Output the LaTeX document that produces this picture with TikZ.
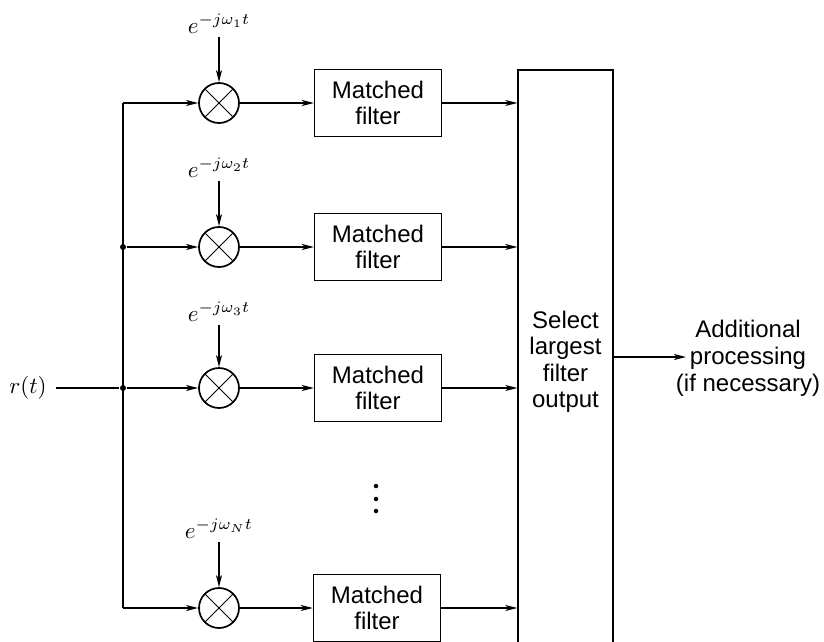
\documentclass[tikz,border=0pt]{standalone}
\usepackage{fontspec}
\setmainfont{Liberation Sans}
\usetikzlibrary{arrows.meta}
\begin{document}
\begin{tikzpicture}[x=1pt,y=-1pt,
  line width=1.4pt,
  >={Stealth[length=12pt,width=6pt,inset=3pt]},
  mult/.style={circle,draw,line width=1.7pt,minimum size=40pt,inner sep=0pt,
    path picture={\draw[line width=0.9pt]
      (path picture bounding box.north west)--(path picture bounding box.south east)
      (path picture bounding box.north east)--(path picture bounding box.south west);}},
  mf/.style={draw,minimum width=127pt,minimum height=67pt,align=center,
    font=\fontsize{24}{26}\selectfont,inner sep=0pt},
  sig/.style={scale=2.3,inner sep=1pt},
  junct/.style={circle,fill,inner sep=0pt,minimum size=6pt},
  dotst/.style={circle,fill,inner sep=0pt,minimum size=4.5pt}
]
\useasboundingbox (0,0) rectangle (824,642);
\clip (0,0) rectangle (824,642);

% multipliers
\node[mult] (m1) at (219,103) {};
\node[mult] (m2) at (219,247) {};
\node[mult] (m3) at (219,388) {};
\node[mult] (mN) at (219,608) {};

% matched filters
\node[mf] (f1) at (378,103) {Matched\\filter};
\node[mf] (f2) at (378,247) {Matched\\filter};
\node[mf] (f3) at (378,388) {Matched\\filter};
\node[mf] (fN) at (377,608) {Matched\\filter};

% select box
\node[draw,minimum width=95pt,minimum height=584pt,align=center,inner sep=0pt,
  font=\fontsize{24}{26.5}\selectfont] (sel) at (565.5,362)
  {Select\\largest\\filter\\output};

% oscillator labels
\node[sig,anchor=south] (l1) at ([yshift=45pt]m1.north) {$e^{-j\omega_1 t}$};
\node[sig,anchor=south] (l2) at ([yshift=45pt]m2.north) {$e^{-j\omega_2 t}$};
\node[sig,anchor=south] (l3) at ([yshift=42pt]m3.north) {$e^{-j\omega_3 t}$};
\node[sig,anchor=south] (lN) at ([yshift=45pt]mN.north) {$e^{-j\omega_N t}$};
\draw[->] (l1.south) -- (m1.north);
\draw[->] (l2.south) -- (m2.north);
\draw[->] (l3.south) -- (m3.north);
\draw[->] (lN.south) -- (mN.north);

% input bus
\node[sig] (r) at (28,388) {$r(t)$};
\coordinate (b1) at (123,103);
\coordinate (bN) at (123,608);
\node[junct] (j2) at (123,247) {};
\node[junct] (j3) at (123,388) {};
\draw (b1) -- (bN);
\draw[shorten <=5pt] (r) -- (j3);
\draw[->] (b1) -- (m1);
\draw[->] (j2) -- (m2);
\draw[->] (j3) -- (m3);
\draw[->] (bN) -- (mN);

% multiplier -> filter -> select
\draw[->] (m1) -- (f1);
\draw[->] (m2) -- (f2);
\draw[->] (m3) -- (f3);
\draw[->] (mN) -- (fN);
\draw[->] (f1) -- (f1 -| sel.west);
\draw[->] (f2) -- (f2 -| sel.west);
\draw[->] (f3) -- (f3 -| sel.west);
\draw[->] (fN) -- (fN -| sel.west);

% vertical dots
\node[dotst] (d1) at (376,486) {};
\node[dotst] (d2) at (376,499) {};
\node[dotst] (d3) at (376,511) {};

% output
\node[font=\fontsize{24}{27}\selectfont,align=center,inner sep=0pt] (out) at (748,358)
  {Additional\\processing\\(if necessary)};
\coordinate (o) at (686,357);
\draw[->] ([yshift=5pt]sel.east) -- (o);
\end{tikzpicture}
\end{document}
